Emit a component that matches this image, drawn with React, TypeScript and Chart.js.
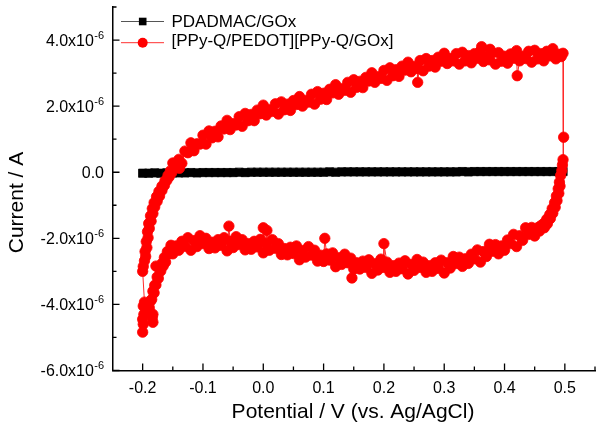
import React, { useEffect, useRef } from "react";
import { Chart, registerables } from "chart.js";

Chart.register(...registerables);

const FONT = '"Liberation Sans", Arial, Helvetica, sans-serif';

// ---- axis ticks / labels ----
const X_MAJOR = [-0.2, -0.1, 0.0, 0.1, 0.2, 0.3, 0.4, 0.5];
const X_MINOR = [-0.15, -0.05, 0.05, 0.15, 0.25, 0.35, 0.45, 0.55];
const X_TICK_TEXT = ["-0.2", "-0.1", "0.0", "0.1", "0.2", "0.3", "0.4", "0.5"];
const Y_MAJOR = [-6e-6, -4e-6, -2e-6, 0, 2e-6, 4e-6];
const Y_MINOR = [-5e-6, -3e-6, -1e-6, 1e-6, 3e-6, 5e-6];
const Y_TICK_TEXT = ["-6.0x10", "-4.0x10", "-2.0x10", "0.0", "2.0x10", "4.0x10"];
const Y_TICK_EXP = ["-6", "-6", "-6", "", "-6", "-6"];
const X_TITLE = "Potential / V (vs. Ag/AgCl)";
const Y_TITLE = "Current / A";
const SERIES_NAMES = ["PDADMAC/GOx", "[PPy-Q/PEDOT][PPy-Q/GOx]"];

// ---- PDADMAC/GOx (potential V, current µA) ----
const BLACK_V = [
  -0.2, -0.19, -0.18, -0.17, -0.16, -0.15, -0.14, -0.13, -0.12, -0.11,
  -0.1, -0.09, -0.08, -0.07, -0.06, -0.05, -0.04, -0.03, -0.02, -0.01,
  0.0, 0.01, 0.02, 0.03, 0.04, 0.05, 0.06, 0.07, 0.08, 0.09,
  0.1, 0.11, 0.12, 0.13, 0.14, 0.15, 0.16, 0.17, 0.18, 0.19,
  0.2, 0.21, 0.22, 0.23, 0.24, 0.25, 0.26, 0.27, 0.28, 0.29,
  0.3, 0.31, 0.32, 0.33, 0.34, 0.35, 0.36, 0.37, 0.38, 0.39,
  0.4, 0.41, 0.42, 0.43, 0.44, 0.45, 0.46, 0.47, 0.48, 0.49,
  0.497,
];
const BLACK_I = [
  -0.03, -0.03, -0.02, -0.03, -0.02, -0.02, -0.02, -0.02, -0.01, -0.02,
  -0.01, -0.01, -0.01, -0.01, -0.01, -0.01, 0.0, -0.01, 0.0, 0.0,
  0.0, 0.0, 0.0, 0.0, 0.0, 0.0, 0.0, 0.0, 0.0, 0.0,
  0.0, 0.01, 0.0, 0.01, 0.01, 0.01, 0.01, 0.01, 0.01, 0.01,
  0.01, 0.01, 0.01, 0.01, 0.01, 0.01, 0.01, 0.01, 0.01, 0.01,
  0.01, 0.01, 0.01, 0.02, 0.01, 0.02, 0.02, 0.02, 0.02, 0.02,
  0.02, 0.02, 0.02, 0.02, 0.02, 0.02, 0.02, 0.02, 0.02, 0.02,
  0.02,
];

// ---- [PPy-Q/PEDOT][PPy-Q/GOx] as [potential V, current µA], in scan order ----
const RED_START = [
  [-0.2, -4.84], [-0.199, -4.6], [-0.2, -4.45], [-0.198, -4.3], [-0.199, -4.05],
  [-0.197, -3.93], [-0.2, -3.0],
];
const RED_ANODIC_FOOT = [
  [-0.199, -2.85], [-0.197, -2.68], [-0.195, -2.55], [-0.196, -2.4], [-0.193, -2.28],
  [-0.194, -2.1], [-0.191, -1.98], [-0.192, -1.8], [-0.189, -1.7], [-0.19, -1.55],
  [-0.186, -1.48], [-0.187, -1.32], [-0.183, -1.25], [-0.184, -1.1], [-0.18, -1.05],
  [-0.181, -0.92], [-0.176, -0.88], [-0.177, -0.74], [-0.172, -0.72], [-0.173, -0.58],
  [-0.168, -0.55], [-0.168, -0.42], [-0.164, -0.4], [-0.163, -0.26], [-0.16, -0.25],
  [-0.158, -0.1], [-0.156, -0.14], [-0.154, 0.04], [-0.152, -0.02],
];
const RED_ANODIC = [
  [-0.15, 0.28], [-0.145, 0.14], [-0.14, 0.39], [-0.139, 0.12], [-0.135, 0.27],
  [-0.13, 0.64], [-0.125, 0.59], [-0.12, 0.89], [-0.115, 0.65], [-0.11, 0.86],
  [-0.105, 0.85], [-0.1, 1.12], [-0.095, 0.85], [-0.09, 1.25], [-0.085, 1.04],
  [-0.08, 1.24], [-0.075, 1.07], [-0.07, 1.4], [-0.065, 1.31], [-0.06, 1.57],
  [-0.055, 1.29], [-0.05, 1.47], [-0.045, 1.43], [-0.04, 1.68], [-0.035, 1.39],
  [-0.03, 1.78], [-0.025, 1.56], [-0.02, 1.75], [-0.015, 1.56], [-0.01, 1.88],
  [-0.005, 1.77], [0.0, 2.03], [0.005, 1.73], [0.01, 1.89], [0.015, 1.84],
  [0.02, 2.07], [0.025, 1.76], [0.03, 2.13], [0.035, 1.89], [0.04, 2.06],
  [0.045, 1.87], [0.05, 2.17], [0.055, 2.05], [0.06, 2.29], [0.065, 2.0],
  [0.07, 2.17], [0.075, 2.12], [0.08, 2.36], [0.085, 2.06], [0.09, 2.44],
  [0.095, 2.21], [0.1, 2.39], [0.105, 2.2], [0.11, 2.51], [0.115, 2.4],
  [0.12, 2.65], [0.125, 2.36], [0.13, 2.53], [0.135, 2.48], [0.14, 2.72],
  [0.145, 2.42], [0.15, 2.8], [0.155, 2.57], [0.16, 2.75], [0.165, 2.56],
  [0.17, 2.87], [0.175, 2.76], [0.18, 3.01], [0.185, 2.72], [0.19, 2.89],
  [0.195, 2.84], [0.2, 3.08], [0.205, 2.78], [0.21, 3.16], [0.215, 2.92],
  [0.22, 3.1], [0.225, 2.9], [0.23, 3.21], [0.235, 3.09], [0.24, 3.33],
  [0.245, 3.04], [0.25, 3.2], [0.255, 3.14], [0.256, 2.72], [0.26, 3.38],
  [0.265, 3.07], [0.27, 3.44], [0.275, 3.21], [0.28, 3.38], [0.285, 3.18],
  [0.29, 3.48], [0.295, 3.36], [0.3, 3.6], [0.305, 3.29], [0.31, 3.44],
  [0.315, 3.37], [0.32, 3.59], [0.325, 3.27], [0.33, 3.63], [0.335, 3.37],
  [0.34, 3.53], [0.345, 3.31], [0.35, 3.59], [0.355, 3.45], [0.36, 3.67],
  [0.362, 3.8], [0.365, 3.35], [0.37, 3.49], [0.375, 3.4], [0.376, 3.72],
  [0.38, 3.61], [0.385, 3.27], [0.39, 3.62], [0.395, 3.36], [0.4, 3.51],
  [0.405, 3.3], [0.41, 3.58], [0.415, 3.45], [0.42, 3.68], [0.421, 2.92],
  [0.425, 3.37], [0.43, 3.51], [0.435, 3.44], [0.44, 3.66], [0.445, 3.33],
  [0.45, 3.69], [0.455, 3.43], [0.46, 3.59], [0.465, 3.37], [0.47, 3.66],
  [0.475, 3.52], [0.48, 3.74], [0.485, 3.43], [0.49, 3.57], [0.494, 3.5],
  [0.497, 3.6],
];
const RED_SWITCH = [
  [0.498, 1.06], [0.497, 0.38], [0.496, 0.22], [0.495, 0.05],
];
const RED_CATHODIC_FOOT = [
  [0.493, -0.1], [0.491, -0.3], [0.492, -0.42], [0.489, -0.5], [0.49, -0.64],
  [0.486, -0.72], [0.487, -0.86], [0.483, -0.92], [0.484, -1.06], [0.479, -1.1],
  [0.48, -1.24], [0.475, -1.28], [0.476, -1.4], [0.47, -1.42], [0.471, -1.56],
  [0.465, -1.55], [0.466, -1.68], [0.46, -1.62], [0.458, -1.78], [0.455, -1.68],
];
const RED_CATHODIC = [
  [0.45, -1.93], [0.445, -1.67], [0.44, -1.88], [0.435, -1.68], [0.43, -2.06],
  [0.425, -1.92], [0.42, -2.25], [0.415, -1.88], [0.41, -2.16], [0.405, -2.05],
  [0.4, -2.36], [0.395, -2.23], [0.39, -2.47], [0.385, -2.19], [0.38, -2.39],
  [0.375, -2.18], [0.37, -2.55], [0.365, -2.4], [0.36, -2.72], [0.355, -2.35],
  [0.35, -2.62], [0.345, -2.48], [0.34, -2.76], [0.335, -2.62], [0.33, -2.85],
  [0.325, -2.57], [0.32, -2.76], [0.315, -2.55], [0.31, -2.9], [0.305, -2.74],
  [0.3, -3.05], [0.295, -2.66], [0.29, -2.91], [0.285, -2.74], [0.28, -3.0],
  [0.275, -2.83], [0.27, -3.03], [0.265, -2.72], [0.26, -2.88], [0.255, -2.64],
  [0.25, -2.97], [0.245, -2.79], [0.24, -3.08], [0.235, -2.68], [0.23, -2.92],
  [0.225, -2.75], [0.22, -3.0], [0.215, -2.83], [0.21, -3.03], [0.205, -2.72],
  [0.2, -2.16], [0.2, -2.88], [0.195, -2.63], [0.19, -2.96], [0.185, -2.77],
  [0.18, -3.06], [0.175, -2.65], [0.17, -2.88], [0.165, -2.69], [0.16, -2.93],
  [0.155, -2.74], [0.15, -2.93], [0.147, -3.2], [0.145, -2.6], [0.14, -2.74],
  [0.135, -2.48], [0.13, -2.79], [0.125, -2.59], [0.12, -2.86], [0.115, -2.44],
  [0.11, -2.66], [0.105, -2.47], [0.102, -2.0], [0.1, -2.7], [0.095, -2.51],
  [0.09, -2.69], [0.085, -2.36], [0.08, -2.51], [0.075, -2.25], [0.07, -2.57],
  [0.065, -2.37], [0.06, -2.65], [0.055, -2.23], [0.05, -2.46], [0.045, -2.27],
  [0.04, -2.5], [0.035, -2.31], [0.03, -2.49], [0.025, -2.16], [0.02, -2.3],
  [0.015, -2.04], [0.01, -2.36], [0.006, -1.76], [0.005, -2.16], [0.0, -1.68],
  [0.0, -2.44], [-0.005, -2.03], [-0.01, -2.26], [-0.015, -2.09], [-0.02, -2.33],
  [-0.025, -2.16], [-0.03, -2.35], [-0.035, -2.04], [-0.04, -2.19], [-0.045, -1.95],
  [-0.05, -2.28], [-0.055, -2.09], [-0.057, -1.63], [-0.06, -2.38], [-0.065, -1.98],
  [-0.07, -2.21], [-0.075, -2.04], [-0.08, -2.29], [-0.085, -2.12], [-0.09, -2.31],
  [-0.095, -2.0], [-0.1, -2.16], [-0.105, -1.92], [-0.11, -2.25], [-0.115, -2.07],
  [-0.12, -2.36], [-0.125, -1.98], [-0.13, -2.24], [-0.135, -2.09], [-0.14, -2.36],
  [-0.145, -2.23], [-0.15, -2.47], [-0.153, -2.21], [-0.156, -2.47], [-0.159, -2.4],
  [-0.162, -2.72], [-0.164, -2.58], [-0.166, -2.84], [-0.168, -2.76], [-0.17, -2.99],
  [-0.172, -2.93], [-0.174, -3.21], [-0.176, -3.17], [-0.178, -2.84], [-0.178, -3.41],
  [-0.18, -3.42], [-0.181, -3.65], [-0.183, -3.6], [-0.185, -3.85], [-0.187, -3.9],
  [-0.189, -4.1], [-0.19, -4.2], [-0.187, -4.28], [-0.184, -4.4], [-0.183, -4.54],
  [-0.183, -4.3],
];

const UA = 1e-6;

function toPoints(pairs: number[][]) {
  return pairs.map(([v, i]) => ({ x: v, y: i * UA }));
}

const decorPlugin = {
  id: "decor",
  afterDraw(chart: any) {
    const { ctx, chartArea: ca } = chart;
    const xs = chart.scales.x;
    const ys = chart.scales.y;
    ctx.save();
    // tick marks (pointing inward)
    ctx.strokeStyle = "#000";
    ctx.lineWidth = 1.3;
    ctx.beginPath();
    X_MAJOR.forEach((v) => {
      const p = xs.getPixelForValue(v);
      ctx.moveTo(p, ca.bottom);
      ctx.lineTo(p, ca.bottom - 7);
    });
    X_MINOR.forEach((v) => {
      const p = xs.getPixelForValue(v);
      ctx.moveTo(p, ca.bottom);
      ctx.lineTo(p, ca.bottom - 4);
    });
    Y_MAJOR.forEach((v) => {
      const p = ys.getPixelForValue(v);
      ctx.moveTo(ca.left, p);
      ctx.lineTo(ca.left + 7, p);
    });
    Y_MINOR.forEach((v) => {
      const p = ys.getPixelForValue(v);
      ctx.moveTo(ca.left, p);
      ctx.lineTo(ca.left + 4, p);
    });
    ctx.stroke();

    ctx.fillStyle = "#000";
    ctx.textBaseline = "alphabetic";
    // x tick labels
    ctx.font = `16px ${FONT}`;
    ctx.textAlign = "center";
    X_MAJOR.forEach((v, i) => {
      ctx.fillText(X_TICK_TEXT[i], xs.getPixelForValue(v), ca.bottom + 22);
    });
    // y tick labels with superscript exponent
    ctx.textAlign = "right";
    Y_MAJOR.forEach((v, i) => {
      const p = ys.getPixelForValue(v);
      const right = ca.left - 8.5;
      let r = right;
      if (Y_TICK_EXP[i]) {
        ctx.font = `11px ${FONT}`;
        ctx.fillText(Y_TICK_EXP[i], right, p - 1.2);
        r = right - ctx.measureText(Y_TICK_EXP[i]).width - 0.3;
      }
      ctx.font = `16px ${FONT}`;
      ctx.fillText(Y_TICK_TEXT[i], r, p + 5.8);
    });
    // axis titles
    ctx.font = `21px ${FONT}`;
    ctx.textAlign = "center";
    ctx.fillText(X_TITLE, 353, 418);
    ctx.save();
    ctx.translate(22.7, 202.5);
    ctx.rotate(-Math.PI / 2);
    ctx.fillText(Y_TITLE, 0, 0);
    ctx.restore();

    // legend
    const lx0 = 121;
    const lx1 = 164;
    const mx = 142.7;
    ctx.lineWidth = 1;
    ctx.strokeStyle = "#555";
    ctx.beginPath();
    ctx.moveTo(lx0, 21.5);
    ctx.lineTo(lx1, 21.5);
    ctx.stroke();
    ctx.fillStyle = "#000";
    ctx.fillRect(mx - 3.8, 21.5 - 3.8, 7.6, 7.6);
    ctx.strokeStyle = "#ff3030";
    ctx.beginPath();
    ctx.moveTo(lx0, 42.7);
    ctx.lineTo(lx1, 42.7);
    ctx.stroke();
    ctx.fillStyle = "#ff0000";
    ctx.beginPath();
    ctx.arc(mx, 42.7, 5, 0, Math.PI * 2);
    ctx.fill();
    ctx.fillStyle = "#000";
    ctx.font = `17px ${FONT}`;
    ctx.textAlign = "left";
    ctx.fillText(SERIES_NAMES[0], 171.5, 26.8);
    ctx.fillText(SERIES_NAMES[1], 171.5, 45.6);
    ctx.restore();
  },
};

export default function App() {
  const ref = useRef<HTMLCanvasElement>(null);
  useEffect(() => {
    const redData = [
      ...toPoints(RED_START),
      ...toPoints(RED_ANODIC_FOOT),
      ...toPoints(RED_ANODIC),
      ...toPoints(RED_SWITCH),
      ...toPoints(RED_CATHODIC_FOOT),
      ...toPoints(RED_CATHODIC),
    ];
    const blackData = BLACK_V.map((v, k) => ({ x: v, y: BLACK_I[k] * UA }));
    const chart = new Chart(ref.current as HTMLCanvasElement, {
      type: "scatter",
      data: {
        datasets: [
          {
            label: SERIES_NAMES[1],
            data: redData,
            showLine: true,
            borderColor: "#ff2a2a",
            borderWidth: 1,
            pointStyle: "circle",
            pointRadius: 5.2,
            pointBorderWidth: 0.8,
            pointBackgroundColor: "#ff0000",
            pointBorderColor: "#ff0000",
            tension: 0,
          },
          {
            label: SERIES_NAMES[0],
            data: blackData,
            showLine: true,
            borderColor: "#000",
            borderWidth: 1,
            pointStyle: "rect",
            pointRadius: 5.8,
            pointBorderWidth: 0.8,
            pointBackgroundColor: "#000",
            pointBorderColor: "#000",
            tension: 0,
          },
        ],
      },
      options: {
        responsive: false,
        animation: false,
        devicePixelRatio: 1,
        layout: { padding: { top: 7, right: 7, left: 0, bottom: 0 } },
        plugins: {
          legend: { display: false },
          tooltip: { enabled: false },
          title: { display: false },
        },
        scales: {
          x: {
            type: "linear",
            min: -0.25,
            max: 0.55,
            ticks: { display: false },
            grid: { display: false },
            border: { display: true, color: "#000", width: 1.5 },
            afterFit: (s: any) => {
              s.height = 59.5;
            },
          },
          y: {
            type: "linear",
            min: -6e-6,
            max: 5e-6,
            ticks: { display: false },
            grid: { display: false },
            border: { display: true, color: "#000", width: 1.5 },
            afterFit: (s: any) => {
              s.width = 112.5;
            },
          },
        },
      },
      plugins: [decorPlugin],
    } as any);
    return () => chart.destroy();
  }, []);
  return (
    <div
      style={{
        position: "absolute",
        left: 0,
        top: 0,
        width: 602,
        height: 430,
        background: "#fff",
      }}
    >
      <canvas
        ref={ref}
        width={602}
        height={430}
        style={{ display: "block", width: 602, height: 430 }}
      />
    </div>
  );
}
